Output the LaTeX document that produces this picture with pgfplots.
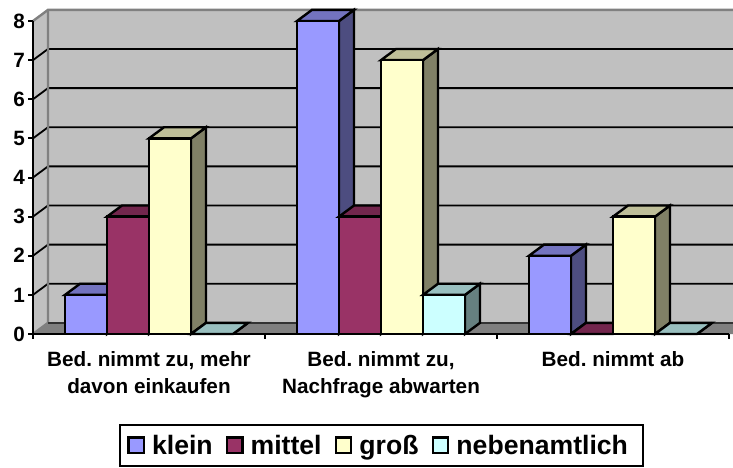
\documentclass[border=0pt]{standalone}
\usepackage{pgfplots}
\pgfplotsset{compat=1.18}
\usepackage{fontspec}
\setmainfont{Liberation Sans}
\frenchspacing
\definecolor{wall}{HTML}{C0C0C0}
\definecolor{floorc}{HTML}{808080}
\definecolor{bluef}{HTML}{9999FF}\definecolor{bluet}{HTML}{7373BF}\definecolor{blues}{HTML}{4D4D80}
\definecolor{purf}{HTML}{993366}\definecolor{purt}{HTML}{73264D}\definecolor{purs}{HTML}{4D1A33}
\definecolor{yelf}{HTML}{FFFFCC}\definecolor{yelt}{HTML}{BFBF99}\definecolor{yels}{HTML}{808066}
\definecolor{cyaf}{HTML}{CCFFFF}\definecolor{cyat}{HTML}{99BFBF}\definecolor{cyas}{HTML}{668080}
% depth of the 3D offset in axis units
\def\dx{0.0647}
\def\dy{0.285}
\def\bw{0.181}
% #1 category, #2 position within group, #3 value, #4 colour stem
\newcommand\tdbar[4]{%
  \pgfmathsetmacro\xa{#1+(32+42*#2)/232}%
  \pgfmathsetmacro\xb{\xa+\bw}%
  \pgfmathsetmacro\xc{\xa+\dx}%
  \pgfmathsetmacro\xd{\xb+\dx}%
  \pgfmathsetmacro\yt{#3+\dy}%
  \pgfmathsetmacro\yz{\dy}%
  \addplot[forget plot,draw=black,line width=2.4pt,line join=miter,fill=#4s] coordinates {(\xb,0)(\xd,\yz)(\xd,\yt)(\xb,#3)} --cycle;
  \addplot[forget plot,draw=black,line width=2.4pt,line join=miter,fill=#4t] coordinates {(\xa,#3)(\xc,\yt)(\xd,\yt)(\xb,#3)} --cycle;
  \addplot[forget plot,draw=black,line width=2.4pt,line join=miter,fill=#4f] coordinates {(\xa,0)(\xb,0)(\xb,#3)(\xa,#3)} --cycle;
}
\newcommand\gridat[1]{%
  \pgfmathsetmacro\yt{#1+\dy}%
  \addplot[forget plot,draw=black,line width=1.8pt] coordinates {(0,#1)(\dx,\yt)(3.1,\yt)};
}
\begin{document}
\begin{tikzpicture}[x=1pt,y=1pt]
\path[use as bounding box] (0,0) rectangle (733,467);
\clip (0,0) rectangle (733,467);
\begin{axis}[
  at={(33pt,133pt)},anchor=origin,
  scale only axis,width=696pt,height=313pt,
  xmin=0,xmax=3,ymin=0,ymax=8,clip=false,
  axis x line*=bottom,axis y line*=left,
  axis line style={black,line width=2.8pt,-},
  axis on top,
  xtick={0,1,2,3},x tick label as interval,
  xticklabels={{Bed. nimmt zu, mehr\\davon einkaufen},{Bed. nimmt zu,\\Nachfrage abwarten},{Bed. nimmt ab}},
  ytick={0,...,8},
  /pgf/number format/assume math mode=true,
  tick style={black,line width=2pt},
  tick align=outside,major tick length=4.5pt,
  ticklabel style={font=\fontsize{20.7}{27}\selectfont\bfseries},
  xticklabel style={align=center,anchor=north,yshift=-9pt},
  yticklabel style={xshift=0pt},
  legend columns=-1,
  legend cell align=left,
  legend style={at={(0.1236,-0.2875)},anchor=north west,
    draw=black,line width=2.4pt,inner xsep=7pt,inner ysep=8pt,
    font=\fontsize{26.6}{28}\selectfont\bfseries,
    /tikz/every even column/.style={column sep=11pt},
    /tikz/every odd column/.style={column sep=5pt}},
]
% walls and floor
\addplot[forget plot,draw=none,fill=wall] coordinates {(\dx,\dy)(3.1,\dy)(3.1,8.285)(\dx,8.285)} --cycle;
\addplot[forget plot,draw=none,fill=wall] coordinates {(0,0)(\dx,\dy)(\dx,8.285)(0,8)} --cycle;
\addplot[forget plot,draw=none,fill=floorc] coordinates {(0,0)(\dx,\dy)(3.1,\dy)(3.1,0)} --cycle;
\gridat{1}\gridat{2}\gridat{3}\gridat{4}\gridat{5}\gridat{6}\gridat{7}
\addplot[forget plot,draw=floorc,line width=2.4pt] coordinates {(0,8)(\dx,8.285)(3.1,8.285)};
\addplot[forget plot,draw=floorc,line width=2.4pt] coordinates {(0,0)(\dx,\dy)(\dx,8.285)};
\addplot[forget plot,draw=black!60!floorc,line width=1.6pt] coordinates {(\dx,\dy)(3.1,\dy)};
% group 1
\tdbar{0}{0}{1}{blue}\tdbar{0}{1}{3}{pur}\tdbar{0}{2}{5}{yel}\tdbar{0}{3}{0}{cya}
% group 2
\tdbar{1}{0}{8}{blue}\tdbar{1}{1}{3}{pur}\tdbar{1}{2}{7}{yel}\tdbar{1}{3}{1}{cya}
% group 3
\tdbar{2}{0}{2}{blue}\tdbar{2}{1}{0}{pur}\tdbar{2}{2}{3}{yel}\tdbar{2}{3}{0}{cya}
\addlegendimage{legend image code/.code={\draw[draw=black,line width=2.4pt,fill=bluef] (0pt,-7.5pt) rectangle (15.5pt,8pt);}}
\addlegendentry{klein}
\addlegendimage{legend image code/.code={\draw[draw=black,line width=2.4pt,fill=purf] (0pt,-7.5pt) rectangle (15.5pt,8pt);}}
\addlegendentry{mittel}
\addlegendimage{legend image code/.code={\draw[draw=black,line width=2.4pt,fill=yelf] (0pt,-7.5pt) rectangle (15.5pt,8pt);}}
\addlegendentry{groß}
\addlegendimage{legend image code/.code={\draw[draw=black,line width=2.4pt,fill=cyaf] (0pt,-7.5pt) rectangle (15.5pt,8pt);}}
\addlegendentry{nebenamtlich\hspace*{6pt}}
\end{axis}
\end{tikzpicture}
\end{document}
